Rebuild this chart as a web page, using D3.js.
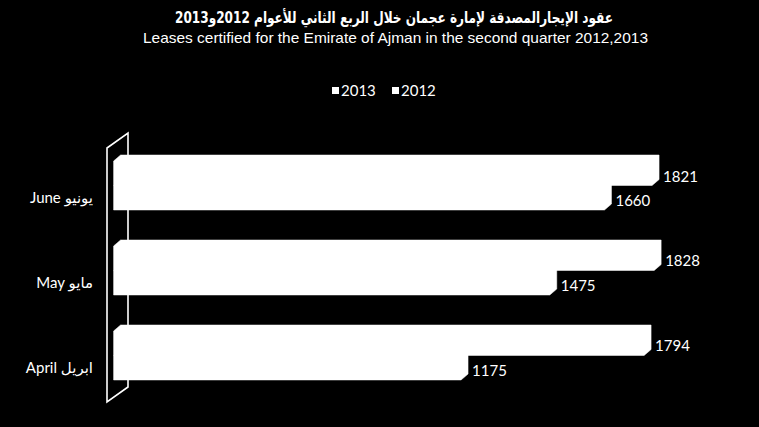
<!DOCTYPE html>
<html><head><meta charset="utf-8">
<script src="https://cdn.jsdelivr.net/npm/d3@7"></script>
<style>
html,body{margin:0;padding:0;background:#000;}
svg{display:block;}
</style></head>
<body>
<svg id="c" width="759" height="427"></svg>
<script>
const categories = ["June يونيو", "May مايو", "April ابريل"];
const seriesNames = ["2013", "2012"];
const values2013 = [1821, 1828, 1794];
const values2012 = [1660, 1475, 1175];
const titleAr = "عقود الإيجارالمصدقة لإمارة عجمان خلال الربع الثاني للأعوام 2012و2013";
const titleEn = "Leases certified for the Emirate of Ajman in the second quarter 2012,2013";

const svg = d3.select("#c");
const W = 759, H = 427;
svg.append("rect").attr("width", W).attr("height", H).attr("fill", "#000");

const depthX = 7, depthY = -6;
const x = d3.scaleLinear().domain([0, 2000]).range([113.6, 705]);
const y = d3.scaleBand().domain(categories).range([143, 398]).paddingInner(0.4235).paddingOuter(0.2118);
const ySub = d3.scaleBand().domain(seriesNames).range([0, y.bandwidth()]);

// back wall
const wx0 = 107, wx1 = 128;
svg.append("path")
  .attr("d", `M${wx0},148 L${wx1},133 L${wx1},387 L${wx0},402 Z`)
  .attr("fill", "none").attr("stroke", "#fff").attr("stroke-width", 1.6);

const data = [];
categories.forEach((c, i) => {
  data.push({cat: c, s: "2012", v: values2012[i]});
  data.push({cat: c, s: "2013", v: values2013[i]});
});

function boxPath(d) {
  const x0 = x(0), x1 = x(d.v);
  const y0 = y(d.cat) + ySub(d.s), y1 = y0 + ySub.bandwidth();
  return `M${x0},${y1} L${x0},${y0} L${x0 + depthX},${y0 + depthY} L${x1 + depthX},${y0 + depthY} L${x1 + depthX},${y1 + depthY} L${x1},${y1} Z`;
}

svg.append("g").selectAll("path").data(data).join("path")
  .attr("d", boxPath)
  .attr("fill", "#fff")
  .attr("stroke", "#fff").attr("stroke-width", 0.5);

// data labels
svg.append("g").selectAll("text").data(data).join("text")
  .attr("x", d => x(d.v) + depthX + 4)
  .attr("y", d => y(d.cat) + ySub(d.s) + ySub.bandwidth() / 2 + 3)
  .attr("dy", "0.35em")
  .attr("fill", "#fff")
  .attr("font-family", "Lato, 'DejaVu Sans', sans-serif")
  .attr("font-size", 15)
  .text(d => d.v);

// category labels
svg.append("g").selectAll("text").data(categories).join("text")
  .attr("x", 93)
  .attr("y", d => y(d) + y.bandwidth() / 2 + 12)
  .attr("dy", "0.35em")
  .attr("text-anchor", "end")
  .attr("fill", "#fff")
  .attr("font-family", "Lato, 'DejaVu Sans', sans-serif")
  .attr("font-size", 15)
  .text(d => d);

// titles
svg.append("text")
  .attr("x", 175).attr("y", 17).attr("dy", "0.35em")
  .attr("fill", "#fff").attr("font-weight", "bold")
  .attr("font-family", "'DejaVu Sans', sans-serif").attr("font-size", 16)
  .attr("textLength", 438).attr("lengthAdjust", "spacingAndGlyphs")
  .text("\u202B" + titleAr + "\u202C");
svg.append("text")
  .attr("x", 143).attr("y", 38).attr("dy", "0.35em")
  .attr("fill", "#fff")
  .attr("font-family", "'Liberation Sans', Arial, sans-serif").attr("font-size", 14.5)
  .attr("textLength", 505).attr("lengthAdjust", "spacingAndGlyphs")
  .text(titleEn);

// legend
const legend = svg.append("g");
const legX = [332, 392];
seriesNames.forEach((s, i) => {
  legend.append("rect").attr("x", legX[i]).attr("y", 87).attr("width", 7).attr("height", 7).attr("fill", "#fff");
  legend.append("text").attr("x", legX[i] + 9).attr("y", 91).attr("dy", "0.35em")
    .attr("fill", "#fff").attr("font-family", "Lato, sans-serif").attr("font-size", 15)
    .text(s);
});
</script>
</body></html>
